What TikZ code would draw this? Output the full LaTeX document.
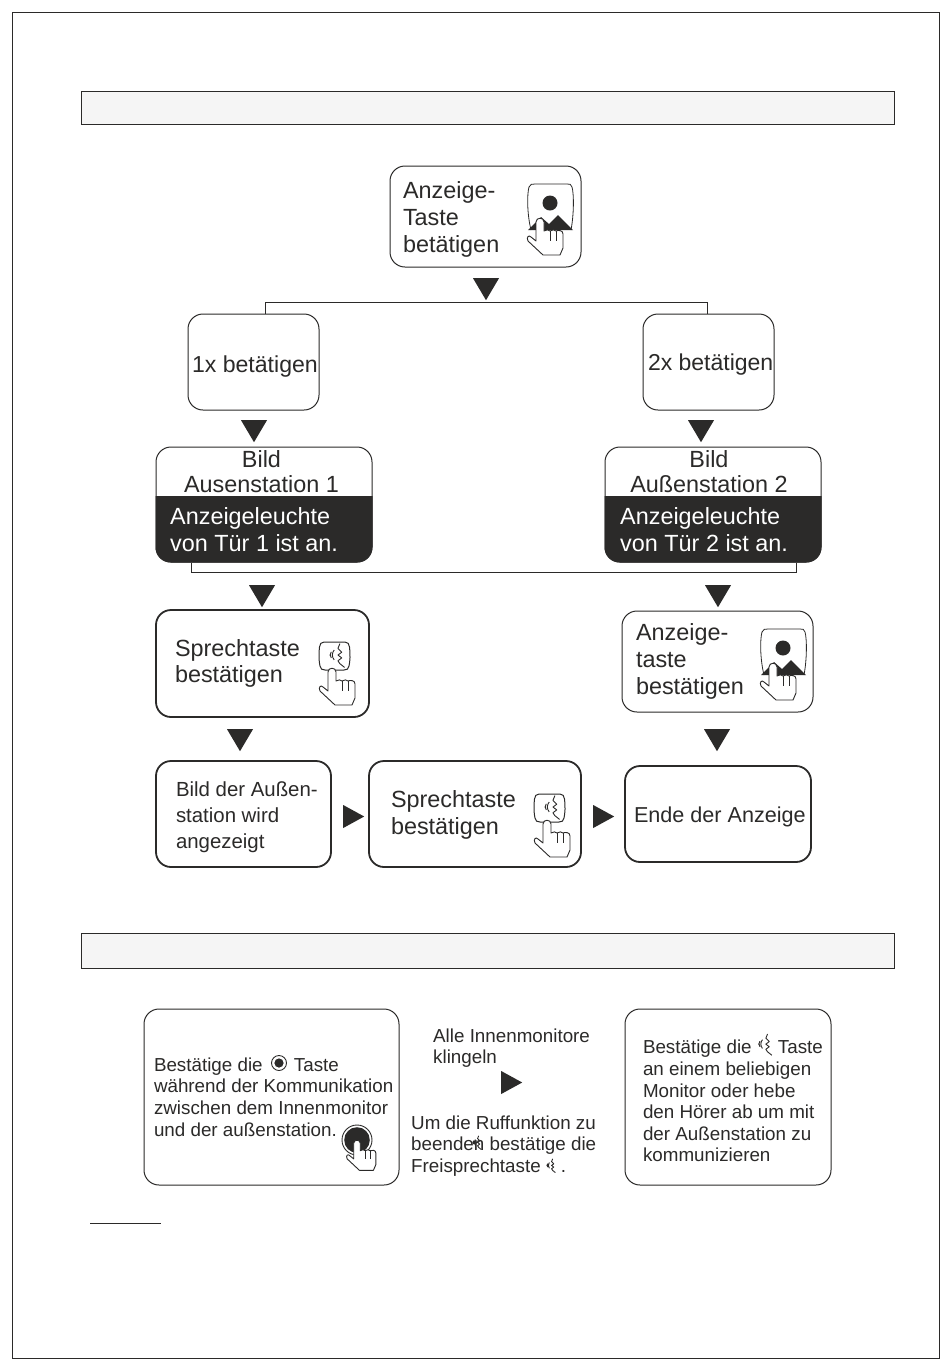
\documentclass[tikz,border=0pt]{standalone}
\usepackage{fontspec}
\setmainfont{Liberation Sans}
\usetikzlibrary{calc,shapes.geometric}
\definecolor{inkgray}{HTML}{2B2A29}
\newcommand{\bigfont}{\fontsize{23.4}{26.8}\selectfont}
\newcommand{\midfont}{\fontsize{20.4}{26}\selectfont}
\newcommand{\smallfont}{\fontsize{18.8}{21.6}\selectfont}
% hand with the finger tip at #1,#2
\newcommand{\handicon}[3]{\begin{scope}[shift={(#1,#2)},scale=#3]
  \draw[fill=white,line width=.9pt,line join=round,draw=inkgray] (-4,23) -- (-4,4) .. controls (-4,-1) and (4,-1) .. (4,4) -- (4,13)
    .. controls (6,11.5) and (9,11.5) .. (10,13) .. controls (12,11.5) and (15,11.5) .. (16,13)
    .. controls (18,12) and (23,12) .. (23,16) -- (23,30) -- (20,37) -- (3,37) -- (-12,23)
    .. controls (-14,19) and (-11,16.5) .. (-9,19) -- cycle;
  \draw[line width=.8pt,draw=inkgray] (10,13) -- (10,23) (16,13) -- (16,23);
\end{scope}}
% monitor button with the person on it
\newcommand{\viewicon}[2]{\begin{scope}[shift={(#1,#2)}]
  \draw[line width=.8pt,draw=inkgray] (4,46) .. controls (0,30) and (0,10) .. (2,3) .. controls (3,0) and (5,0) .. (8,0)
    -- (40,0) .. controls (43,0) and (44,0) .. (45,3) .. controls (47,10) and (47,30) .. (44,46);
  \fill[inkgray] (23,19) circle (7.5);
  \fill[inkgray] (1,46) -- (14,33) -- (22,40) -- (31,31) -- (46,46) -- cycle;
\end{scope}}
% mouth and sound waves
\newcommand{\talkglyph}[3]{\begin{scope}[shift={(#1,#2)},scale=#3]
  \draw[line width=.9pt,draw=inkgray,line join=round] (3,-13) -- (1,-8) -- (5,-4) -- (1,-1) -- (5,2) -- (1,5) -- (3,8) -- (8,12);
  \draw[line width=.9pt,draw=inkgray] (-6,2) arc (140:220:5) (-3,4) arc (140:220:8);
  \fill[inkgray] (-7,-1) circle (.9);
\end{scope}}
\newcommand{\talkicon}[2]{\begin{scope}[shift={(#1,#2)}]
  \draw[line width=1pt,draw=inkgray] (5,0) -- (26,0) .. controls (29,0) and (30,2) .. (30.5,5) .. controls (31.5,12) and (31,20) .. (30,24)
    .. controls (29.5,27) and (28,28) .. (25,28) -- (6,28) .. controls (3,28) and (1.5,27) .. (1,24)
    .. controls (0,20) and (-.5,12) .. (.5,5) .. controls (1,2) and (2,0) .. (5,0) -- cycle;
  \talkglyph{18}{14}{.95}
\end{scope}}
\begin{document}
\begin{tikzpicture}[x=1pt,y=-1pt]
  \tikzset{
    flowbox/.style n args={3}{draw=inkgray,rounded corners=15pt,line width=1pt,text=inkgray,align=flush left,
      minimum height=#2pt,inner sep=0pt,text width=#1pt,execute at begin node={\leftskip=#3pt\relax}},
    heavy/.style={line width=1.8pt},
    headbar/.style={draw=inkgray,fill=black!4,line width=.9pt,minimum width=813pt,inner sep=0pt},
    plaintext/.style={text=inkgray,align=left,inner sep=0pt,anchor=west},
    darktext/.style={text=white,align=left,inner sep=0pt,anchor=west,font=\bigfont},
    downtri/.style={isosceles triangle,isosceles triangle stretches,shape border rotate=-90,fill=inkgray,
      inner sep=0pt,minimum width=26pt,minimum height=22pt,anchor=lower side},
    righttri/.style={isosceles triangle,isosceles triangle stretches,fill=inkgray,
      inner sep=0pt,minimum width=23pt,minimum height=21pt,anchor=lower side},
  }
  \useasboundingbox (0,0) rectangle (950,1369);
  \fill[white] (0,0) rectangle (950,1369);
  \node[draw=inkgray,line width=.9pt,minimum width=927pt,minimum height=1346pt,inner sep=0pt] (page) at (475.5,685) {};
  \node[headbar,minimum height=33pt] (headone) at (487.5,107.5) {};
  \node[headbar,minimum height=35pt] (headtwo) at (487.5,950.5) {};

  \node[flowbox={191}{101}{13},font=\bigfont] (tasteA) at (485.5,216.5) {\rule{0pt}{23pt}Anzeige-\\Taste\\betätigen};
  \node[flowbox={131}{96}{4},font=\fontsize{23.1}{26}\selectfont] (pressOne) at (253.5,362) {\rule{0pt}{25pt}\mbox{1x betätigen}};
  \node[flowbox={131}{96}{5},font=\fontsize{23}{26}\selectfont] (pressTwo) at (708.5,362) {\rule{0pt}{21pt}\mbox{2x betätigen}};
  \node[downtri] (triTop) at (486,278) {};
  \node[downtri] (triOne) at (254,420) {};
  \node[downtri] (triTwo) at (701,420) {};

  \coordinate (busL) at (265,302);
  \coordinate (busR) at (707,302);
  \draw[line width=.9pt,draw=inkgray] (pressOne.north -| busL) -- (busL) -- (busR) -- (pressTwo.north -| busR);

  \node[flowbox={216}{115}{0}] (bildA) at (264,504.5) {};
  \node[flowbox={216}{115}{0}] (bildB) at (713,504.5) {};
  \fill[inkgray] (bildA.west |- 0,496) -- (bildA.east |- 0,496) [rounded corners=15pt] -- (bildA.south east) -- (bildA.south west) [sharp corners] -- cycle;
  \fill[inkgray] (bildB.west |- 0,496) -- (bildB.east |- 0,496) [rounded corners=15pt] -- (bildB.south east) -- (bildB.south west) [sharp corners] -- cycle;
  \node[text=inkgray,align=center,inner sep=0pt,font=\bigfont,anchor=base] (bildAtop) at (261.5,492) {Bild\\[-2.6pt]Ausenstation 1};
  \node[text=inkgray,align=center,inner sep=0pt,font=\bigfont,anchor=base] (bildBtop) at (709,492) {Bild\\[-2.6pt]Außenstation 2};
  \node[darktext] (lampA) at (170,529.5) {Anzeigeleuchte\\von Tür 1 ist an.};
  \node[darktext] (lampB) at (620,529.5) {Anzeigeleuchte\\von Tür 2 ist an.};

  \coordinate (lowL) at (191,572);
  \coordinate (lowR) at (796,572);
  \draw[line width=.9pt,draw=inkgray] (bildA.south -| lowL) -- (lowL) -- (lowR) -- (bildB.south -| lowR);

  \node[downtri] (triSprech) at (262,585) {};
  \node[downtri] (triAnz) at (718,585) {};
  \node[flowbox={213}{107}{19},heavy,font=\bigfont] (sprechA) at (262.5,663.5) {Sprechtaste\\bestätigen};
  \node[flowbox={191}{101}{14},font=\bigfont] (anzeigeB) at (717.5,661.5) {Anzeige-\\taste\\bestätigen};
  \node[downtri] (triBild) at (240,729) {};
  \node[downtri] (triEnde) at (717,729) {};
  \node[flowbox={175}{106}{20},heavy,font=\midfont] (bildDer) at (243.5,814) {\rule{0pt}{21pt}Bild der Außen-\\station wird\\angezeigt};
  \node[righttri] (triMidA) at (343,816.5) {};
  \node[flowbox={212}{106}{22},heavy,font=\bigfont] (sprechB) at (475,814) {\rule{0pt}{19pt}Sprechtaste\\bestätigen};
  \node[righttri] (triMidB) at (593,816.5) {};
  \node[flowbox={186}{96}{9},heavy,font=\fontsize{21.6}{26}\selectfont] (ende) at (718,814) {\rule{0pt}{21pt}\mbox{Ende der Anzeige}};

  \viewicon{527}{184}
  \handicon{540}{218}{1}
  \talkicon{319}{642}
  \handicon{332}{668}{1}
  \viewicon{760}{629}
  \handicon{773}{663}{1}
  \talkicon{534}{794}
  \handicon{547}{820}{1}

  \node[flowbox={255}{176}{10},font=\smallfont] (ringBox) at (271.5,1097) {Bestätige die \hspace{26pt}Taste\\während der Kommunikation\\zwischen dem Innenmonitor\\und der außenstation.};
  \draw[line width=.9pt,draw=inkgray] (279,1063) circle (7.5);
  \fill[inkgray] (279,1063) circle (4.6);
  \draw[line width=.9pt,draw=inkgray] (357,1140) circle (15);
  \fill[inkgray] (357,1140) circle (12.8);
  \handicon{357}{1140}{.82}

  \node[plaintext,font=\smallfont] (ringAll) at (433,1048) {Alle Innenmonitore\\klingeln};
  \node[righttri] (triRing) at (501,1082.5) {};
  \node[plaintext,font=\smallfont] (ringEnd) at (411,1146) {Um die Ruffunktion zu\\beenden bestätige die\\Freisprechtaste \hspace{15pt}.};
  \talkglyph{477}{1143}{.55}
  \talkglyph{551}{1166}{.55}

  \node[flowbox={206}{176}{18},font=\smallfont] (talkBox) at (728,1097) {\rule{0pt}{22pt}Bestätige die \hspace{21pt}Taste\\an einem beliebigen\\Monitor oder hebe\\den Hörer ab um mit\\der Außenstation zu\\kommunizieren};
  \talkglyph{765}{1045}{.85}

  \coordinate (noteL) at (90,1223);
  \coordinate (noteR) at (161,1223);
  \draw[line width=.9pt,draw=inkgray] (noteL) -- (noteR);
\end{tikzpicture}
\end{document}
